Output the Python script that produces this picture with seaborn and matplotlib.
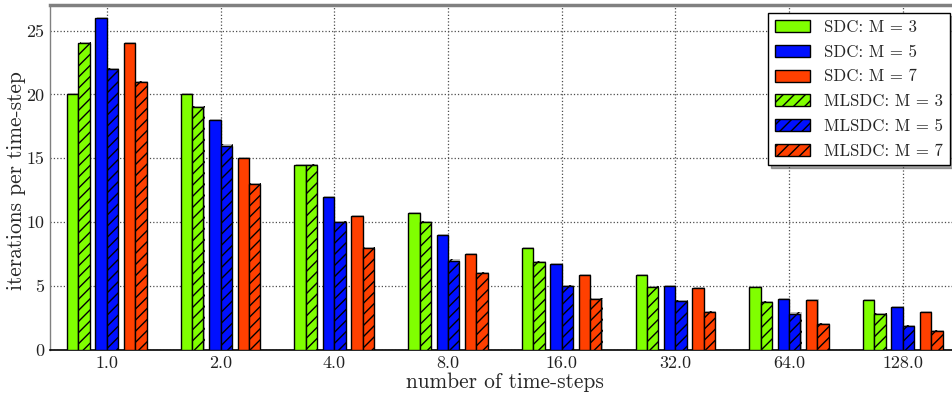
import matplotlib
matplotlib.use("Agg")
import matplotlib.pyplot as plt
import matplotlib.patheffects as pe
from matplotlib.patches import Patch
import numpy as np
import pandas as pd
import seaborn as sns

# number of time-steps (one group of bars each)
steps = ["1.0", "2.0", "4.0", "8.0", "16.0", "32.0", "64.0", "128.0"]

# iterations per time-step
sdc_m3 = [20, 20, 14.5, 10.7, 8.0, 5.9, 4.9, 3.9]
sdc_m5 = [26, 18, 12, 9, 6.7, 5.0, 4.0, 3.35]
sdc_m7 = [24, 15, 10.5, 7.5, 5.85, 4.85, 3.9, 2.95]
mlsdc_m3 = [24, 19, 14.5, 10, 6.85, 4.9, 3.75, 2.8]
mlsdc_m5 = [22, 16, 10, 7, 5.0, 3.8, 2.85, 1.9]
mlsdc_m7 = [21, 13, 8, 6, 4.0, 2.95, 2.0, 1.5]

series_sdc = ["SDC: M = 3", "SDC: M = 5", "SDC: M = 7"]
series_ml = ["MLSDC: M = 3", "MLSDC: M = 5", "MLSDC: M = 7"]
colors = ["#80ff00", "#0010ff", "#ff4000"]

# offset of each bar from its group centre (pairs of SDC / MLSDC per M)
bar_w = 0.1
pair_centres = [-0.25, 0.0, 0.25]


def long_frame(names, values, shift):
    rows = []
    for name, vals, pc in zip(names, values, pair_centres):
        for i, v in enumerate(vals):
            rows.append({"series": name, "value": v, "pos": i + pc + shift})
    return pd.DataFrame(rows)


df_sdc = long_frame(series_sdc, [sdc_m3, sdc_m5, sdc_m7], -bar_w / 2)
df_ml = long_frame(series_ml, [mlsdc_m3, mlsdc_m5, mlsdc_m7], bar_w / 2)

sns.set_style("white")
plt.rcParams["font.family"] = ["cmr10", "DejaVu Serif"]
plt.rcParams["axes.unicode_minus"] = False
plt.rcParams["hatch.linewidth"] = 1.0
plt.rcParams["hatch.color"] = "black"

fig = plt.figure(figsize=(9.53, 3.93), dpi=100)
ax = fig.add_axes([50 / 953, 43 / 393, 909.6 / 953, 345 / 393])

shadow = [pe.SimplePatchShadow(offset=(0.8, 0.8), shadow_rgbFace="0.6", alpha=0.6), pe.Normal()]

common = dict(x="pos", y="value", native_scale=True, dodge=False, width=0.4,
              saturation=1, edgecolor="black", linewidth=1.0, errorbar=None,
              legend=False, ax=ax, path_effects=shadow, zorder=3)
sns.barplot(data=df_sdc, hue="series", hue_order=series_sdc,
            palette=dict(zip(series_sdc, colors)), **common)
sns.barplot(data=df_ml, hue="series", hue_order=series_ml,
            palette=dict(zip(series_ml, colors)), hatch="///", **common)

ax.set_xlim(-0.5, 7.5)
ax.set_ylim(0, 27)
ax.set_xticks(range(len(steps)))
ax.set_xticklabels(steps)
ax.set_yticks([0, 5, 10, 15, 20, 25])
ax.tick_params(axis="both", labelsize=13, length=0, pad=4, labelcolor="#222222")

ax.set_axisbelow(True)
ax.grid(True, linestyle=":", color="0.3", linewidth=0.9)

for side in ["top", "left", "right"]:
    ax.spines[side].set_color("0.5")
ax.spines["top"].set_linewidth(2.5)
ax.spines["left"].set_linewidth(1.0)
ax.spines["bottom"].set_color("black")
ax.spines["bottom"].set_linewidth(1.2)

ax.set_xlabel("number of time-steps", fontsize=15.4, labelpad=1)
ax.set_ylabel("iterations per time-step", fontsize=15.4)
ax.yaxis.set_label_coords(-0.026, 0.49)

handles = [Patch(facecolor=c, edgecolor="black", label=n) for n, c in zip(series_sdc, colors)]
handles += [Patch(facecolor=c, edgecolor="black", hatch="///", label=n) for n, c in zip(series_ml, colors)]
leg = ax.legend(handles=handles, loc="upper right", bbox_to_anchor=(950 / 953, 1 - 13 / 393),
                bbox_transform=fig.transFigure, borderaxespad=0, fontsize=12.1,
                frameon=True, fancybox=False, shadow=True, framealpha=1,
                edgecolor="black", handlelength=2.1, handleheight=0.72,
                labelspacing=0.56, handletextpad=0.85, borderpad=0.4)
leg.get_frame().set_linewidth(1.0)

fig.savefig("out.png", dpi=100)
